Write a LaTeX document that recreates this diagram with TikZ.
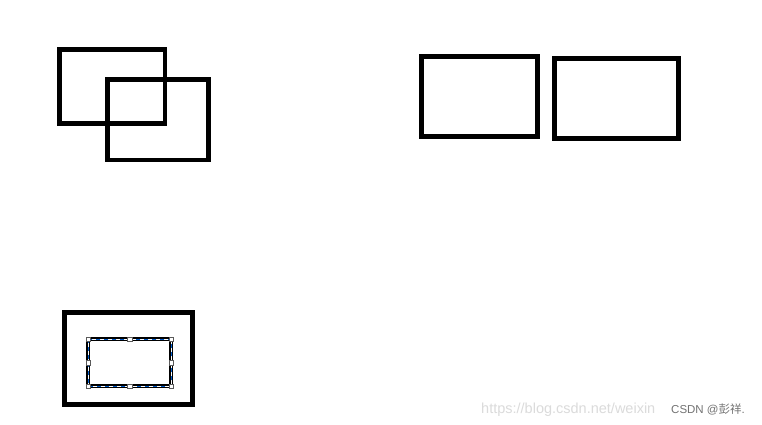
\documentclass[tikz,border=0pt]{standalone}
\usepackage{fontspec}
\setmainfont{Liberation Sans}
\newfontfamily\cjk{Noto Sans CJK SC}
\definecolor{selblue}{RGB}{0,90,200}
\definecolor{handlegray}{RGB}{90,90,90}
\tikzset{
  frame/.style={draw=black, line width=4.7pt, line join=miter},
  handle/.style={draw=handlegray, fill=white, line width=0.8pt, minimum size=4.5pt, inner sep=0pt, rectangle},
}
\begin{document}
\begin{tikzpicture}[x=1pt,y=-1pt]
\useasboundingbox[fill=white] (0,0) rectangle (762,425);
% overlapping pair
\draw[frame] (59.5,49.5) rectangle (165,123.5);
\draw[frame] (107.5,79.5) rectangle (208.5,160);
% side-by-side pair
\draw[frame] (421.5,56.5) rectangle (537.5,136.5);
\draw[frame] (554.5,58.5) rectangle (678.5,138.5);
% nested pair
\draw[frame] (64.5,312.5) rectangle (192.5,404.5);
\draw[draw=black, line width=4pt] (88.3,339.3) rectangle (171.3,386.3);
\draw[draw=white, line width=1.1pt] (88.3,339.3) rectangle (171.3,386.3);
\draw[draw=selblue, line width=1.1pt, dash pattern=on 4pt off 4pt] (88.3,339.3) rectangle (171.3,386.3);
\foreach \n/\x/\y in {a/88.3/339.3, b/129.8/339.3, c/171.3/339.3, d/171.3/362.8, e/171.3/386.3, f/129.8/386.3, g/88.3/386.3, h/88.3/362.8}
  \node[handle] (h\n) at (\x,\y) {};
% watermark
\node[anchor=base west, inner sep=0pt, text=black!14, font=\fontsize{14.5}{16}\selectfont] (url) at (481,413) {https://blog.csdn.net/weixin};
\node[anchor=base west, inner sep=0pt, text=black!55, font=\fontsize{11.5}{13}\selectfont] (csdn) at (671,413) {CSDN @{\cjk 彭祥}.};
\end{tikzpicture}
\end{document}
